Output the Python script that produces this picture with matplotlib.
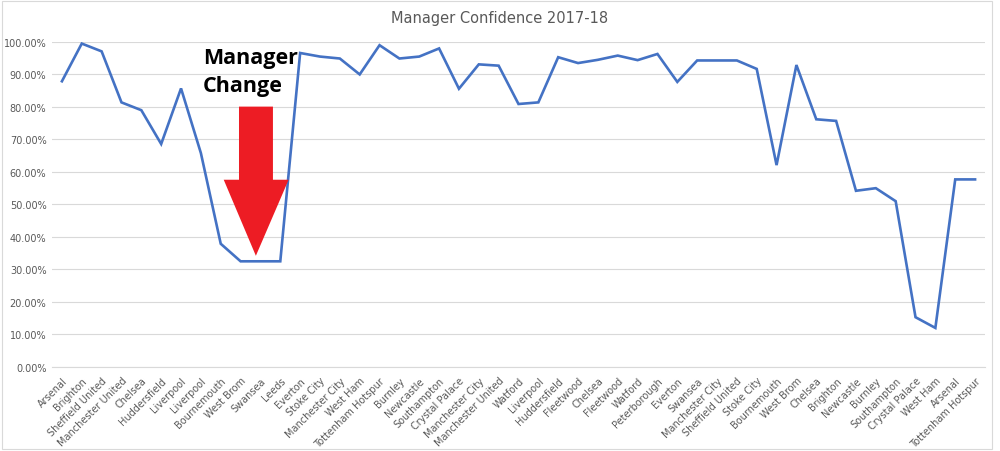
"""Manager confidence 2017-18 line chart (Excel-style)."""
import matplotlib
matplotlib.use("Agg")
import matplotlib.pyplot as plt
from matplotlib.patches import Polygon, Rectangle
from matplotlib.ticker import PercentFormatter, MultipleLocator

clubs = [
    "Arsenal", "Brighton", "Sheffield United", "Manchester United", "Chelsea",
    "Huddersfield", "Liverpool", "Liverpool", "Bournemouth", "West Brom",
    "Swansea", "Leeds", "Everton", "Stoke City", "Manchester City", "West Ham",
    "Tottenham Hotspur", "Burnley", "Newcastle", "Southampton", "Crystal Palace",
    "Manchester City", "Manchester United", "Watford", "Liverpool", "Huddersfield",
    "Fleetwood", "Chelsea", "Fleetwood", "Watford", "Peterborough", "Everton",
    "Swansea", "Manchester City", "Sheffield United", "Stoke City", "Bournemouth",
    "West Brom", "Chelsea", "Brighton", "Newcastle", "Burnley", "Southampton",
    "Crystal Palace", "West Ham", "Arsenal", "Tottenham Hotspur",
]
confidence = [
    0.879, 0.995, 0.971, 0.814, 0.790, 0.686, 0.857, 0.658, 0.379, 0.325,
    0.325, 0.325, 0.966, 0.955, 0.949, 0.900, 0.990, 0.949, 0.955, 0.980,
    0.856, 0.931, 0.927, 0.809, 0.814, 0.953, 0.935, 0.945, 0.958, 0.944,
    0.963, 0.877, 0.943, 0.943, 0.943, 0.917, 0.621, 0.929, 0.762, 0.757,
    0.542, 0.550, 0.510, 0.153, 0.120, 0.577, 0.577,
]

# annotation arrow outline (category index, confidence)
arrow_x = [8.92, 10.63, 10.63, 11.42, 9.77, 8.15, 8.92]
arrow_y = [0.801, 0.801, 0.576, 0.576, 0.342, 0.576, 0.576]

grey = "#595959"

fig = plt.figure(figsize=(10, 4.52), dpi=100)
ax = fig.add_axes([0.052, 0.186, 0.933, 0.719])

x = range(len(clubs))
ax.plot(x, confidence, color="#4472C4", lw=1.9, solid_joinstyle="miter")

ax.add_patch(Polygon(list(zip(arrow_x, arrow_y)), closed=True,
                     facecolor="#ED1C24", edgecolor="none", zorder=5))
ax.text(7.1, 0.985, "Manager\nChange", fontsize=15.5, fontweight="bold",
        family="Open Sans", color="black", va="top", ha="left",
        linespacing=1.45, zorder=6)

ax.set_xlim(-0.5, len(clubs) - 0.5)
ax.set_ylim(0, 1.0)
ax.yaxis.set_major_locator(MultipleLocator(0.1))
ax.yaxis.set_major_formatter(PercentFormatter(1.0, decimals=2))
ax.set_xticks(list(x))
ax.set_xticklabels(clubs, rotation=45, ha="right", rotation_mode="anchor")
ax.tick_params(axis="both", length=0, labelsize=7, colors=grey, pad=4)
ax.tick_params(axis="x", pad=6)
ax.grid(axis="y", color="#D9D9D9", lw=0.8)
ax.set_axisbelow(True)
for side in ["top", "right", "left"]:
    ax.spines[side].set_visible(False)
ax.spines["bottom"].set_color("#D9D9D9")

fig.suptitle("Manager Confidence 2017-18", x=0.5, y=0.975, fontsize=10.5,
             color=grey)

# thin chart-area border like Excel
fig.patches.append(Rectangle((0.002, 0.004), 0.99, 0.992, transform=fig.transFigure,
                             fill=False, edgecolor="#D9D9D9", lw=0.8))

fig.savefig("out.png", dpi=100)
